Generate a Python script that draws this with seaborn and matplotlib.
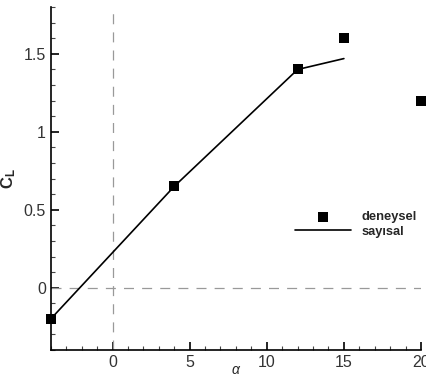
import matplotlib
matplotlib.use('Agg')
import matplotlib.pyplot as plt
import seaborn as sns
import pandas as pd
from matplotlib.ticker import MultipleLocator, FormatStrFormatter

# experimental points (deneysel)
alpha_exp = [-4, 4, 12, 15, 20]
cl_exp = [-0.2, 0.65, 1.4, 1.6, 1.2]

# numerical result (sayisal)
alpha_num = [-4, 4, 12, 15]
cl_num = [-0.2, 0.65, 1.4, 1.47]

sns.set_style('ticks')
plt.rcParams['font.family'] = ['Liberation Sans', 'DejaVu Sans']
plt.rcParams['mathtext.fontset'] = 'custom'
plt.rcParams['mathtext.rm'] = 'Liberation Sans'
plt.rcParams['mathtext.bf'] = 'Liberation Sans:bold'
plt.rcParams['mathtext.it'] = 'Liberation Sans:italic'

fig = plt.figure(figsize=(4.27, 3.76), dpi=100)
ax = fig.add_axes([0.119, 0.069, 0.867, 0.912])

# reference lines at zero
ax.axvline(0, color='#999999', lw=0.9, ls=(0, (8, 6.5)), zorder=1)
ax.axhline(0, color='#999999', lw=0.9, ls=(0, (8, 6.5)), zorder=1)

df_num = pd.DataFrame({'alpha': alpha_num, 'cl': cl_num})
df_exp = pd.DataFrame({'alpha': alpha_exp, 'cl': cl_exp})

sns.scatterplot(data=df_exp, x='alpha', y='cl', marker='s', s=50, color='black',
                edgecolor='black', linewidth=0, ax=ax, label='deneysel', zorder=3, clip_on=False)
sns.lineplot(data=df_num, x='alpha', y='cl', color='black', lw=1.2, ax=ax,
             label='sayısal', zorder=2, sort=False)

ax.set_xlim(-4, 20)
ax.set_ylim(-0.4, 1.8)
ax.xaxis.set_major_locator(MultipleLocator(5))
ax.xaxis.set_minor_locator(MultipleLocator(1))
ax.yaxis.set_major_locator(MultipleLocator(0.5))
ax.yaxis.set_minor_locator(MultipleLocator(0.1))
ax.yaxis.set_major_formatter(FormatStrFormatter('%g'))
ax.xaxis.set_major_formatter(FormatStrFormatter('%g'))
ax.tick_params(which='major', direction='in', length=6, width=1.2, labelsize=11.5,
               colors='black', labelcolor='#333333')
ax.tick_params(which='minor', direction='in', length=3, width=0.8, colors='#444444')

for side in ['top', 'right']:
    ax.spines[side].set_visible(False)
for side in ['left', 'bottom']:
    ax.spines[side].set_linewidth(1.2)
    ax.spines[side].set_color('black')

ax.set_xlabel(r'$\alpha$', fontsize=10, labelpad=-5)
ax.set_ylabel(r'$\mathbf{C_L}$', fontsize=12, labelpad=4)

leg = ax.legend(loc='center', bbox_to_anchor=(0.824, 0.367), frameon=False,
                prop={'weight': 'bold', 'size': 9.3}, handlelength=4.3,
                labelspacing=0.2, handletextpad=0.85)

fig.savefig('out.png', dpi=100)
